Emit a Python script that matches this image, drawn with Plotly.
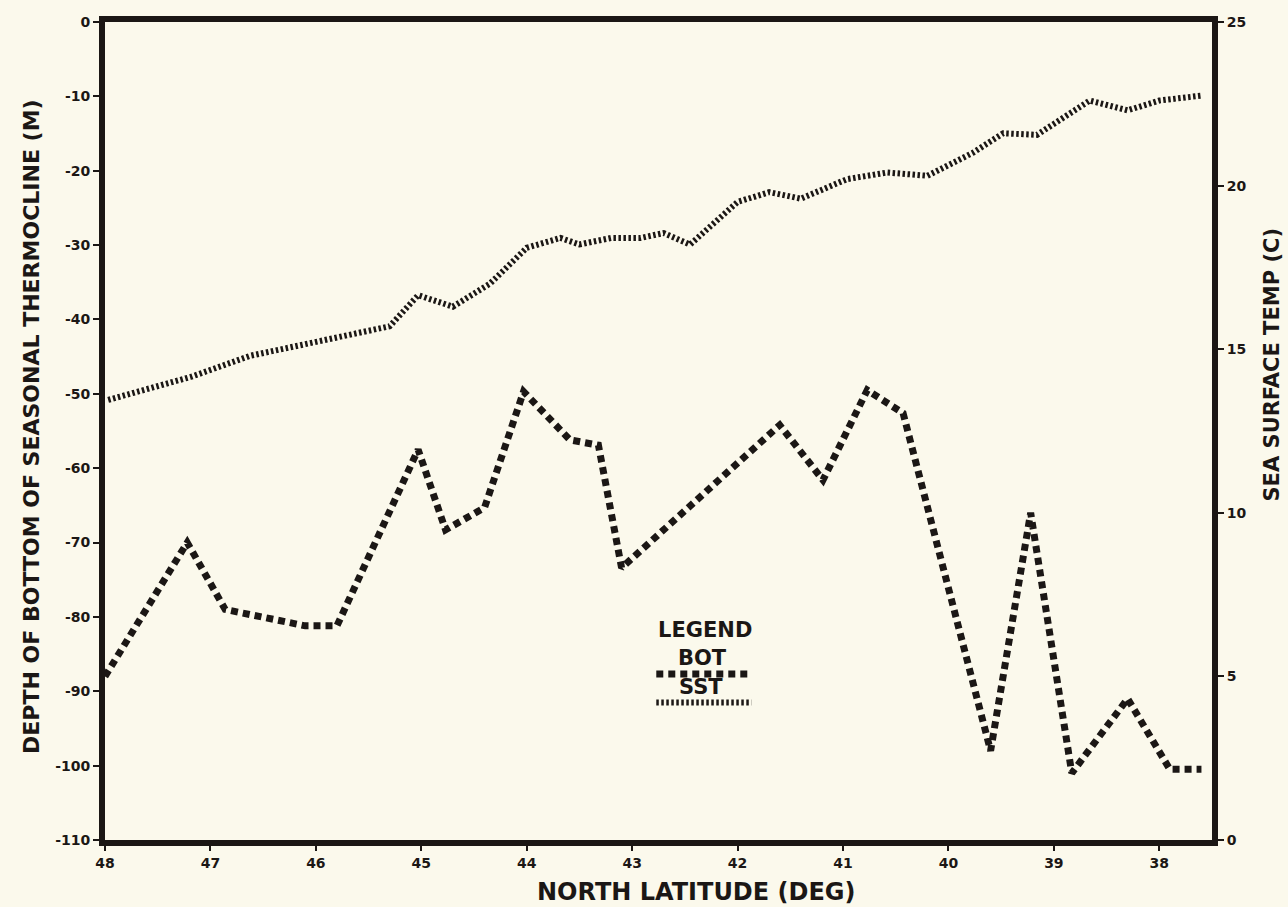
import plotly.graph_objects as go

# Depth of the bottom of the seasonal thermocline (m) along the section
bot_lat = [48.0, 47.22, 46.86, 46.5, 46.1, 45.8, 45.03, 44.77, 44.4, 44.03,
           43.59, 43.32, 43.1, 41.6, 41.19, 40.77, 40.43, 39.6, 39.22, 38.83,
           38.3, 37.9, 37.6]
bot_depth = [-88.0, -70.0, -79.0, -80.0, -81.2, -81.2, -57.5, -68.3, -65.3, -49.7,
             -56.2, -56.9, -73.4, -54.2, -61.6, -49.5, -52.6, -98.0, -66.0, -101.0,
             -91.0, -100.5, -100.5]

# Sea surface temperature (C) along the same section
sst_lat = [47.97, 47.19, 46.62, 45.87, 45.3, 45.03, 44.7, 44.35, 44.0, 43.68,
           43.5, 43.2, 42.92, 42.7, 42.45, 42.0, 41.7, 41.4, 40.96, 40.58,
           40.2, 39.77, 39.48, 39.16, 38.66, 38.3, 38.0, 37.6]
sst_temp = [13.45, 14.15, 14.8, 15.3, 15.7, 16.65, 16.3, 17.0, 18.1, 18.4,
            18.2, 18.4, 18.4, 18.55, 18.2, 19.5, 19.8, 19.6, 20.2, 20.4,
            20.3, 21.0, 21.6, 21.55, 22.6, 22.3, 22.6, 22.75]

lat_ticks = [48, 47, 46, 45, 44, 43, 42, 41, 40, 39, 38]
depth_ticks = [0, -10, -20, -30, -40, -50, -60, -70, -80, -90, -100, -110]
temp_ticks = [0, 5, 10, 15, 20, 25]

INK = "#1b1715"
PAPER = "#fbf9ec"
FONT = "DejaVu Sans"

BOT_DASH = "7px,5px"
SST_DASH = "2.5px,2.5px"

fig = go.Figure()
fig.add_trace(go.Scatter(x=bot_lat, y=bot_depth, mode="lines", name="BOT",
                         line=dict(color=INK, width=7, dash=BOT_DASH), yaxis="y"))
fig.add_trace(go.Scatter(x=sst_lat, y=sst_temp, mode="lines", name="SST",
                         line=dict(color=INK, width=6, dash=SST_DASH), yaxis="y2"))


def bold(size):
    return dict(family=FONT, size=size, color=INK, weight="bold")


tickfont = bold(14)

fig.update_layout(
    width=1288, height=907,
    margin=dict(l=105, r=76, t=22, b=67),
    paper_bgcolor=PAPER, plot_bgcolor=PAPER,
    showlegend=False,
    xaxis=dict(range=[48, 37.5], tickvals=lat_ticks, ticktext=[str(v) for v in lat_ticks],
               showgrid=False, zeroline=False, showline=True, linecolor=INK, linewidth=6,
               mirror=True, ticks="outside", ticklen=5, tickwidth=2, tickcolor=INK,
               tickfont=tickfont),
    yaxis=dict(range=[-110, 0], tickvals=depth_ticks, ticktext=[str(v) for v in depth_ticks],
               showgrid=False, zeroline=False, showline=True, linecolor=INK, linewidth=6,
               ticks="outside", ticklen=6, tickwidth=2, tickcolor=INK, tickfont=tickfont),
    yaxis2=dict(range=[0, 25], tickvals=temp_ticks, ticktext=[str(v) for v in temp_ticks],
                overlaying="y", side="right", showgrid=False, zeroline=False,
                showline=True, linecolor=INK, linewidth=6,
                ticks="outside", ticklen=6, tickwidth=2, tickcolor=INK, tickfont=tickfont),
)

annotations = [
    dict(text="NORTH LATITUDE (DEG)", x=0.534, y=-0.064, xref="paper", yref="paper",
         xanchor="center", yanchor="middle", showarrow=False, font=bold(24)),
    dict(text="DEPTH OF BOTTOM OF SEASONAL THERMOCLINE (M)", x=-0.067, y=0.506,
         xref="paper", yref="paper", textangle=-90, xanchor="center", yanchor="middle",
         showarrow=False, font=bold(22)),
    dict(text="SEA SURFACE TEMP (C)", x=1.054, y=0.581, xref="paper", yref="paper",
         textangle=-90, xanchor="center", yanchor="middle", showarrow=False,
         font=bold(21)),
    # legend block
    dict(text="LEGEND", x=0.542, y=0.257, xref="paper", yref="paper",
         xanchor="center", yanchor="middle", showarrow=False, font=bold(21)),
    dict(text="BOT", x=0.54, y=0.222, xref="paper", yref="paper",
         xanchor="center", yanchor="middle", showarrow=False, font=bold(21)),
    dict(text="SST", x=0.538, y=0.187, xref="paper", yref="paper",
         xanchor="center", yanchor="middle", showarrow=False, font=bold(21)),
]
fig.update_layout(annotations=annotations)

fig.add_shape(type="line", xref="paper", yref="paper", x0=0.498, x1=0.581, y0=0.203, y1=0.203,
              line=dict(color=INK, width=7, dash=BOT_DASH))
fig.add_shape(type="line", xref="paper", yref="paper", x0=0.498, x1=0.584, y0=0.168, y1=0.168,
              line=dict(color=INK, width=6, dash=SST_DASH))

fig.write_html("out.html")
